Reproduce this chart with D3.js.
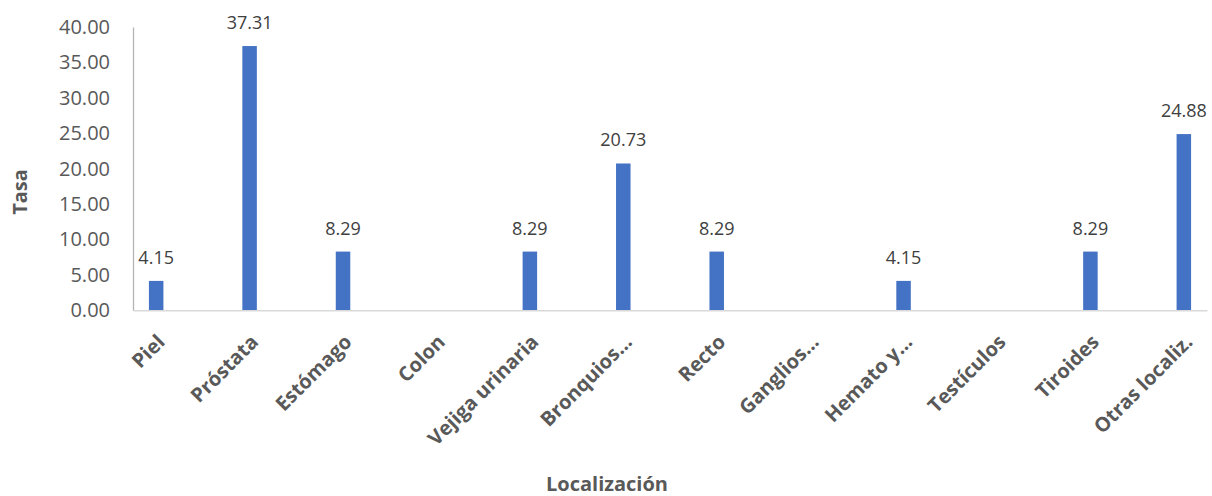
<!DOCTYPE html>
<html><head><meta charset="utf-8">
<script src="https://cdn.jsdelivr.net/npm/d3@7"></script>
<style>body{margin:0;background:#fff;} svg{display:block;}</style>
</head><body>
<svg id="c" width="1212" height="496"></svg>
<script>
const categories = ["Piel","Próstata","Estómago","Colon","Vejiga urinaria","Bronquios…","Recto","Ganglios…","Hemato y…","Testículos","Tiroides","Otras localiz."];
const values = [4.15,37.31,8.29,null,8.29,20.73,8.29,null,4.15,null,8.29,24.88];
const yTicks = [0,5,10,15,20,25,30,35,40];
const yTitle = "Tasa";
const xTitle = "Localización";

(function(){
const svg = d3.select("#c");
const mLeft = 133, mRight = 1207, mTop = 27, mBottom = 310.3;
const x = d3.scalePoint().domain(categories).range([mLeft, mRight]).padding(0.248);
const y = d3.scaleLinear().domain([0,40]).range([mBottom, mTop]);
const bw = 14.5;
const font = "'Open Sans', sans-serif";

// y axis
const ya = svg.append("g").attr("transform",`translate(${mLeft},0)`)
  .call(d3.axisLeft(y).tickValues(yTicks).tickFormat(d3.format(".2f")).tickSize(0).tickPadding(23));
ya.select(".domain").attr("stroke","#b4b4b4").attr("stroke-width",1.3);
ya.selectAll("text").attr("font-family",font).attr("font-size",20).attr("fill","#595959");

// bars
svg.append("g").selectAll("rect").data(categories.map((c,i)=>({c,v:values[i]})).filter(d=>d.v!=null))
  .join("rect")
  .attr("x",d=>x(d.c)-bw/2).attr("width",bw)
  .attr("y",d=>y(d.v)).attr("height",d=>mBottom-y(d.v))
  .attr("fill","#4472C4");

// x axis
const xa = svg.append("g").attr("transform",`translate(0,${mBottom})`)
  .call(d3.axisBottom(x).tickSize(0).tickSizeOuter(0).tickFormat(()=>""));
xa.select(".domain").attr("stroke","#d9d9d9").attr("stroke-width",1.5);
xa.selectAll(".tick").remove();

svg.append("g").selectAll("text").data(categories).join("text")
  .attr("transform",d=>`translate(${x(d)+5},${mBottom+28}) rotate(-45)`)
  .attr("text-anchor","end").attr("dy","0.35em")
  .attr("font-family",font).attr("font-weight","bold").attr("font-size",20).attr("fill","#595959")
  .text(d=>d);

// data labels
svg.append("g").selectAll("text").data(categories.map((c,i)=>({c,v:values[i]})).filter(d=>d.v!=null))
  .join("text")
  .attr("x",d=>x(d.c)).attr("y",d=>y(d.v)-17)
  .attr("text-anchor","middle")
  .attr("font-family",font).attr("font-size",18).attr("fill","#404040")
  .text(d=>d3.format(".2f")(d.v));

// titles
svg.append("text").attr("transform","translate(27,192) rotate(-90)")
  .attr("text-anchor","middle").attr("font-family",font).attr("font-weight","bold")
  .attr("font-size",20).attr("fill","#595959").text(yTitle);
svg.append("text").attr("x",607).attr("y",491)
  .attr("text-anchor","middle").attr("font-family",font).attr("font-weight","bold")
  .attr("font-size",20).attr("fill","#595959").text(xTitle);
})();
</script>
</body></html>
